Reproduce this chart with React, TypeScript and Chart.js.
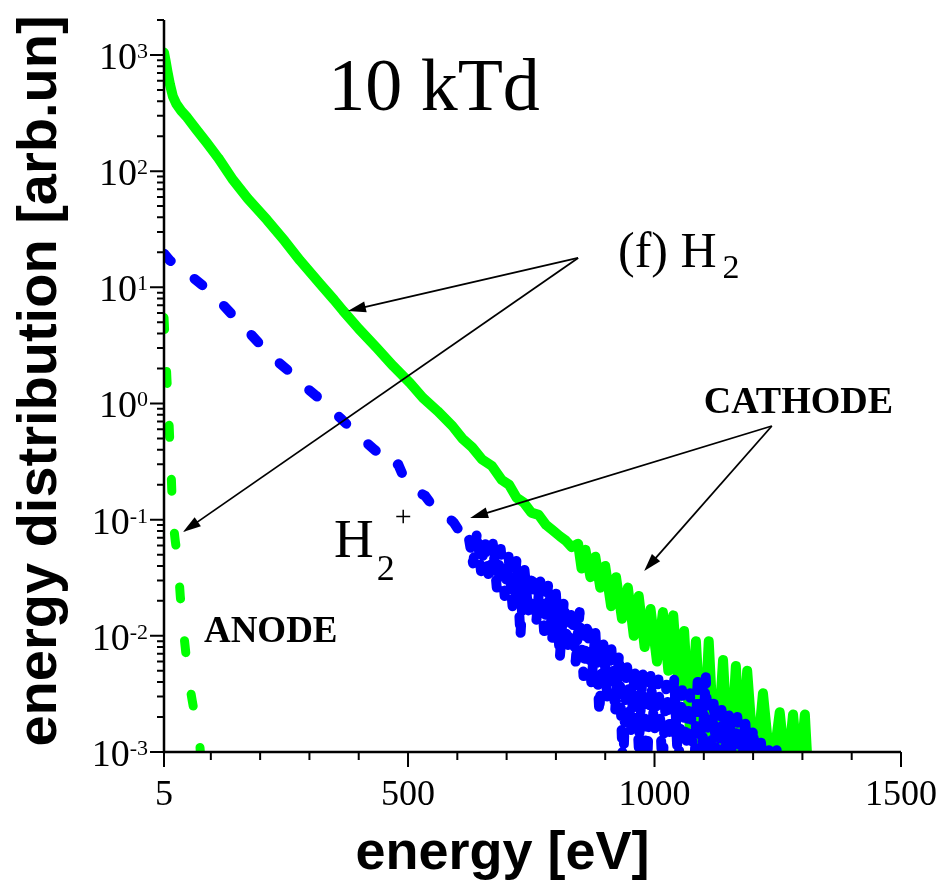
import React, { useEffect, useRef } from "react";
import { Chart, registerables } from "chart.js";
Chart.register(...registerables);

// ---- data ----
const cathodeH2Energy = [5, 8, 12, 17, 23, 30, 40, 52, 70, 92, 115, 145, 175, 214, 250, 281, 321, 350, 368, 400, 437, 470, 504, 530, 560, 590, 610, 630, 650, 670, 690, 705, 720, 735, 750, 765, 780, 795, 808, 820, 832, 845, 852, 860, 870, 880, 890, 900, 912, 922, 934, 946, 958, 968, 980, 992, 1005, 1017, 1028, 1038, 1050, 1060, 1072, 1084, 1098, 1110, 1124, 1139, 1152, 1165, 1176, 1188, 1204, 1220, 1237, 1254, 1268, 1281, 1293, 1305, 1312];
const cathodeH2Value = [1050, 900, 720, 560, 440, 380, 330, 290, 230, 175, 130, 84, 58, 38, 25, 17, 10.8, 7.8, 6.3, 4.4, 3.0, 2.1, 1.5, 1.12, 0.86, 0.64, 0.5, 0.42, 0.33, 0.29, 0.22, 0.2, 0.155, 0.14, 0.115, 0.11, 0.09, 0.08, 0.072, 0.066, 0.058, 0.062, 0.038, 0.055, 0.032, 0.048, 0.026, 0.040, 0.018, 0.032, 0.014, 0.026, 0.010, 0.022, 0.008, 0.017, 0.006, 0.016, 0.005, 0.015, 0.003, 0.011, 0.0015, 0.009, 0.0008, 0.009, 0.0006, 0.0062, 0.0006, 0.0055, 0.0007, 0.005, 0.0006, 0.0032, 0.0006, 0.0022, 0.0006, 0.0021, 0.0006, 0.0021, 0.0006];

const cathodeH2pEnergy = [5, 17, 30, 50, 82, 115, 147, 175, 202, 230, 259, 286, 313, 340, 364, 390, 411, 432, 453, 470, 480, 488, 500, 512, 524, 535, 545, 559, 570, 582, 593, 604, 614, 624, 632, 640, 648, 656, 664, 672, 680, 688, 696, 704, 712, 720, 728, 736, 744, 752, 760, 768, 776, 784, 792, 800, 808, 816, 824, 832, 840, 848, 856, 864, 872, 880, 888, 896, 904, 912, 920, 928, 936, 944, 952, 960, 968, 976, 984, 992, 1000, 1008, 1016, 1024, 1032, 1040, 1048, 1056, 1064, 1072, 1080, 1088, 1096, 1104, 1112, 1120, 1128, 1136, 1144, 1152, 1160, 1168, 1176, 1184, 1192, 1200, 1208, 1216, 1224, 1232, 1240, 1248, 1256];
const cathodeH2pValue = [19.5, 17, 16, 13.5, 10.5, 7.8, 5.6, 4.2, 3.16, 2.4, 1.89, 1.45, 1.17, 0.92, 0.74, 0.58, 0.48, 0.40, 0.34, 0.28, 0.30, 0.25, 0.22, 0.20, 0.17, 0.16, 0.14, 0.127, 0.11, 0.105, 0.094, 0.08, 0.076, 0.067, 0.042, 0.078, 0.036, 0.068, 0.030, 0.062, 0.026, 0.056, 0.022, 0.048, 0.018, 0.045, 0.010, 0.038, 0.016, 0.034, 0.013, 0.031, 0.011, 0.027, 0.009, 0.023, 0.0065, 0.020, 0.0075, 0.017, 0.006, 0.016, 0.0045, 0.013, 0.0038, 0.011, 0.0022, 0.009, 0.003, 0.0085, 0.0022, 0.007, 0.0007, 0.006, 0.0015, 0.0052, 0.0011, 0.005, 0.0006, 0.0045, 0.0015, 0.0042, 0.0007, 0.0038, 0.0013, 0.0042, 0.0007, 0.0034, 0.0011, 0.0032, 0.0006, 0.0046, 0.0009, 0.0044, 0.0006, 0.0026, 0.0005, 0.0023, 0.0009, 0.0022, 0.0005, 0.002, 0.0007, 0.0019, 0.0005, 0.0016, 0.0005, 0.0012, 0.0005, 0.00105, 0.0005, 0.00105, 0.0005];
const cathodeH2pNoisyFrom = 624; // energy where the H2+ curve becomes noisy

const anodeH2Energy = [5, 8, 11, 14, 17, 20, 23, 28, 33, 38, 42, 48, 54, 62, 70, 78, 84];
const anodeH2Value = [5.5, 3.0, 1.6, 0.9, 0.45, 0.22, 0.10, 0.065, 0.045, 0.022, 0.014, 0.008, 0.0045, 0.0028, 0.0018, 0.0011, 0.0005];

const xMajorTicks = [5, 500, 1000, 1500];
const xMinorTicks = [100, 200, 300, 400, 600, 700, 800, 900, 1100, 1200, 1300, 1400];
const yDecadeExponents = [-3, -2, -1, 0, 1, 2, 3];
const yMinorMultipliers = [2, 3, 4, 5, 6, 7, 8, 9];

const xTitle = "energy [eV]";
const yTitle = "energy distribution [arb.un]";
const panelTitle = "10 kTd";

// annotation anchors in data units (energy, value)
const labelF = { x: 926, y: 14.96 };
const labelCathode = { x: 1100, y: 0.828 };
const labelH2p = { x: 350, y: 0.0477 };
const labelAnode = { x: 86, y: 0.00885 };
const labelTitle = { x: 338, y: 336 };
const arrowsFrom1 = { x: 845, y: 17.9 };
const arrowsTo1 = [{ x: 378, y: 6.25 }, { x: 43.5, y: 0.0783 }];
const arrowsFrom2 = { x: 1238, y: 0.64 };
const arrowsTo2 = [{ x: 626, y: 0.1033 }, { x: 979, y: 0.0361 }];

const SERIF = '"Liberation Serif", "Times New Roman", serif';
const SANS = '"Liberation Sans", Arial, sans-serif';

const toXY = (xs: number[], ys: number[]) => xs.map((x, i) => ({ x, y: ys[i] }));

const decorPlugin = {
  id: "decor",
  afterDatasetsDraw(chart: any) {
    const { ctx, chartArea: a, scales } = chart;
    const xs = scales.x;
    const ys = scales.y;
    const px = (v: number) => xs.getPixelForValue(v);
    const py = (v: number) => ys.getPixelForValue(v);
    ctx.save();
    ctx.strokeStyle = "#000";
    ctx.fillStyle = "#000";

    // axes
    ctx.lineWidth = 2.5;
    ctx.lineCap = "butt";
    ctx.beginPath();
    ctx.moveTo(a.left, a.top);
    ctx.lineTo(a.left, a.bottom);
    ctx.lineTo(a.right, a.bottom);
    ctx.stroke();

    // ticks
    ctx.lineWidth = 2;
    ctx.beginPath();
    xMajorTicks.forEach((v) => {
      const x = px(v);
      ctx.moveTo(x, a.bottom);
      ctx.lineTo(x, a.bottom + 15);
    });
    xMinorTicks.forEach((v) => {
      const x = px(v);
      ctx.moveTo(x, a.bottom);
      ctx.lineTo(x, a.bottom + 8);
    });
    yDecadeExponents.forEach((e) => {
      const y = py(Math.pow(10, e));
      ctx.moveTo(a.left - 14, y);
      ctx.lineTo(a.left, y);
      yMinorMultipliers.forEach((m) => {
        const v = m * Math.pow(10, e);
        if (v <= ys.max * 1.0001) {
          const yy = py(v);
          ctx.moveTo(a.left - 7, yy);
          ctx.lineTo(a.left, yy);
        }
      });
    });
    ctx.stroke();

    // x tick labels
    ctx.font = `36px ${SERIF}`;
    ctx.textAlign = "center";
    ctx.textBaseline = "alphabetic";
    xMajorTicks.forEach((v) => {
      ctx.fillText(String(v), px(v), a.bottom + 53);
    });

    // y tick labels 10^n
    ctx.textAlign = "left";
    yDecadeExponents.forEach((e) => {
      const y = py(Math.pow(10, e));
      const exp = String(e);
      ctx.font = `22px ${SERIF}`;
      const we = ctx.measureText(exp).width;
      ctx.font = `38px ${SERIF}`;
      const wb = ctx.measureText("10").width;
      const right = a.left - 16;
      ctx.fillText("10", right - we - wb, y + 14);
      ctx.font = `22px ${SERIF}`;
      ctx.fillText(exp, right - we, y + 3);
    });

    // axis titles
    ctx.font = `bold 54px ${SANS}`;
    ctx.textAlign = "center";
    ctx.fillText(xTitle, (a.left + a.right) / 2 - 30, a.bottom + 117);
    ctx.save();
    ctx.translate(a.left - 108, (a.top + a.bottom) / 2 - 5);
    ctx.rotate(-Math.PI / 2);
    ctx.font = `bold 56px ${SANS}`;
    ctx.fillText(yTitle, 0, 0);
    ctx.restore();

    // annotations
    ctx.textAlign = "left";
    ctx.font = `74px ${SERIF}`;
    ctx.fillText(panelTitle, px(labelTitle.x), py(labelTitle.y));

    // (f) H2
    {
      const x0 = px(labelF.x), y0 = py(labelF.y);
      ctx.font = `50px ${SERIF}`;
      ctx.fillText("(f) H", x0, y0);
      const w = ctx.measureText("(f) H").width;
      ctx.font = `34px ${SERIF}`;
      ctx.fillText("2", x0 + w + 6, y0 + 11);
    }
    // H2+
    {
      const x0 = px(labelH2p.x), y0 = py(labelH2p.y);
      ctx.font = `55px ${SERIF}`;
      ctx.fillText("H", x0, y0);
      const w = ctx.measureText("H").width;
      ctx.font = `36px ${SERIF}`;
      ctx.fillText("2", x0 + w + 3, y0 + 23);
      ctx.font = `30px ${SERIF}`;
      ctx.fillText("+", x0 + w + 21, y0 - 31);
    }
    ctx.font = `bold 38px ${SERIF}`;
    ctx.fillText("CATHODE", px(labelCathode.x), py(labelCathode.y));
    ctx.font = `bold 37px ${SERIF}`;
    ctx.fillText("ANODE", px(labelAnode.x), py(labelAnode.y));

    // arrows
    const arrow = (x1: number, y1: number, x2: number, y2: number) => {
      const ang = Math.atan2(y2 - y1, x2 - x1);
      const L = 18, H = 5.5;
      const bx = x2 - L * Math.cos(ang), by = y2 - L * Math.sin(ang);
      ctx.lineWidth = 1.8;
      ctx.beginPath();
      ctx.moveTo(x1, y1);
      ctx.lineTo(bx + 2 * Math.cos(ang), by + 2 * Math.sin(ang));
      ctx.stroke();
      ctx.beginPath();
      ctx.moveTo(x2, y2);
      ctx.lineTo(bx - H * Math.sin(ang), by + H * Math.cos(ang));
      ctx.lineTo(bx + H * Math.sin(ang), by - H * Math.cos(ang));
      ctx.closePath();
      ctx.fill();
    };
    arrowsTo1.forEach((t) => arrow(px(arrowsFrom1.x), py(arrowsFrom1.y), px(t.x), py(t.y)));
    arrowsTo2.forEach((t) => arrow(px(arrowsFrom2.x), py(arrowsFrom2.y), px(t.x), py(t.y)));

    ctx.restore();
  },
};

export default function App() {
  const ref = useRef<HTMLCanvasElement | null>(null);
  useEffect(() => {
    if (!ref.current) return;
    const chart = new Chart(ref.current, {
      type: "line",
      data: {
        datasets: [
          {
            label: "H2+ cathode",
            data: toXY(cathodeH2pEnergy, cathodeH2pValue),
            borderColor: "#0000ff",
            borderWidth: 10,
            borderDash: [10, 30],
            borderCapStyle: "round",
            borderJoinStyle: "round",
            pointRadius: 0,
            tension: 0,
            clip: 0,
            segment: {
              borderDash: (c: any) => (c.p0.parsed.x >= cathodeH2pNoisyFrom ? [8, 14] : undefined),
            },
          },
          {
            label: "H2 cathode",
            data: toXY(cathodeH2Energy, cathodeH2Value),
            borderColor: "#00ff00",
            borderWidth: 10,
            borderCapStyle: "round",
            borderJoinStyle: "round",
            pointRadius: 0,
            tension: 0,
            clip: 0,
          },
          {
            label: "H2 anode",
            data: toXY(anodeH2Energy, anodeH2Value),
            borderColor: "#00ff00",
            borderWidth: 9,
            borderDash: [12, 42],
            borderCapStyle: "round",
            borderJoinStyle: "round",
            pointRadius: 0,
            tension: 0,
            clip: 0,
          },
        ],
      },
      options: {
        responsive: false,
        maintainAspectRatio: false,
        animation: false,
        layout: { padding: { left: 164, right: 40, top: 20, bottom: 130 } },
        plugins: { legend: { display: false }, tooltip: { enabled: false } },
        scales: {
          x: { type: "linear", min: 5, max: 1500, display: false },
          y: { type: "logarithmic", min: 0.001, max: 2000, display: false },
        },
      } as any,
      plugins: [decorPlugin],
    });
    return () => chart.destroy();
  }, []);
  return (
    <div style={{ position: "fixed", left: 0, top: 0, width: 941, height: 882, background: "#fff" }}>
      <canvas ref={ref} width={941} height={882} style={{ display: "block" }} />
    </div>
  );
}
